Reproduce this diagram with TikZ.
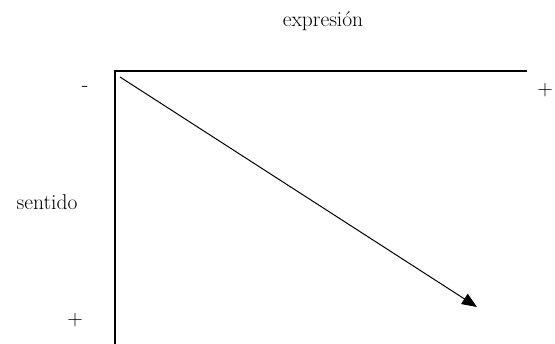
\documentclass[tikz,border=0pt]{standalone}
\usepackage{tikz}
\usetikzlibrary{arrows.meta,positioning}

\begin{document}
\begin{tikzpicture}[
    x=1pt, y=-1pt,
    axis/.style={line width=2.8pt},
    label/.style={font=\fontsize{21.5}{24}\selectfont, inner sep=0pt},
    vector/.style={line width=1pt, -{Triangle[length=15pt, width=12pt]}}
]
    \useasboundingbox (0,0) rectangle (555,344);

    % Axes
    \coordinate (corner) at (115,71);
    \coordinate (xend) at (527,71);
    \coordinate (yend) at (115,344);
    \draw[axis] (xend) -- (corner) -- (yend);

    % Labels
    \node[label] (expr) at (323,21) {expresión};
    \node[label] (sent) at (47,202) {sentido};
    \node[label] (xminus) at (85,89) {-};
    \node[label] (xplus) at (545,90) {+};
    \node[label] (yplus) at (75,320) {+};

    % Arrow
    \coordinate (start) at (120,77);
    \coordinate (tip) at (477,307);
    \draw[vector] (start) -- (tip);
\end{tikzpicture}
\end{document}
